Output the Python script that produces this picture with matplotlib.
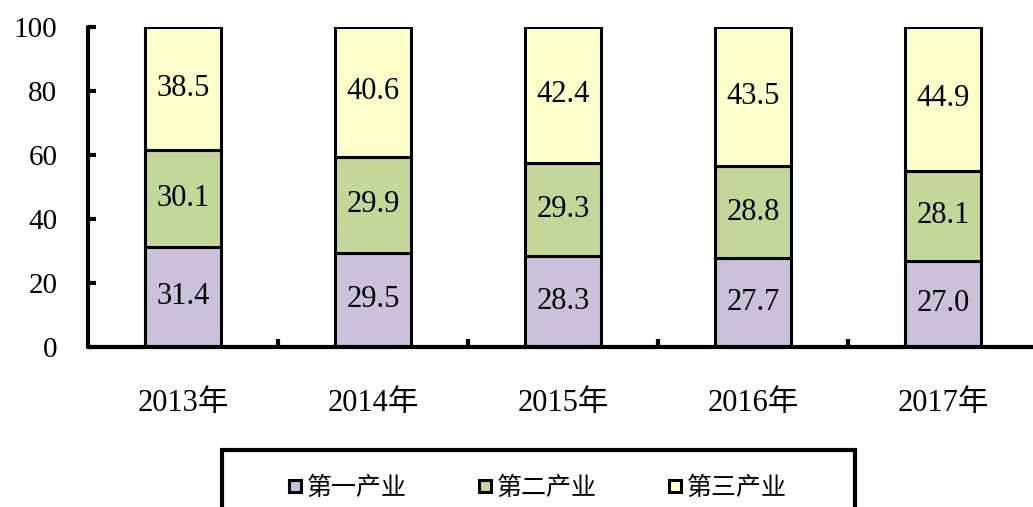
import matplotlib
matplotlib.use("Agg")
import matplotlib.pyplot as plt
from matplotlib.lines import Line2D
from matplotlib.patches import Rectangle
import numpy as np

plt.rcParams['font.family'] = ['Liberation Serif', 'Noto Sans CJK SC']

years = ["2013年", "2014年", "2015年", "2016年", "2017年"]
primary = [31.4, 29.5, 28.3, 27.7, 27.0]
secondary = [30.1, 29.9, 29.3, 28.8, 28.1]
tertiary = [38.5, 40.6, 42.4, 43.5, 44.9]
series_names = ["第一产业", "第二产业", "第三产业"]
colors = ["#CCC0DA", "#C4D79B", "#FFFFCC"]

W, H = 1033, 507
fig = plt.figure(figsize=(W / 100, H / 100), dpi=100)
ax = fig.add_axes([88 / W, (H - 347) / H, 950 / W, 320 / H])

x = np.arange(len(years))
bw = 0.405
bottom = np.zeros(len(years))
for vals, c in zip([primary, secondary, tertiary], colors):
    ax.bar(x, vals, bw, bottom=bottom, color=c, edgecolor="black", linewidth=2.2, zorder=2)
    for xi, b, v in zip(x, bottom, vals):
        ax.text(xi, b + v / 2, f"{v:.1f}", ha="center", va="center", fontsize=22, zorder=3)
    bottom = bottom + np.array(vals)

ax.set_xlim(-0.5, len(years) - 0.5)
ax.set_ylim(0, 100)
ax.set_yticks([0, 20, 40, 60, 80, 100])
ax.set_xticks(x)
ax.set_xticklabels(years)
ax.set_xticks(np.arange(0.5, len(years) - 0.5, 1), minor=True)

for s in ["top", "right"]:
    ax.spines[s].set_visible(False)
for s in ["left", "bottom"]:
    ax.spines[s].set_linewidth(3)
    ax.spines[s].set_capstyle("round")

ax.tick_params(axis="y", direction="in", length=6, width=3, labelsize=21, pad=22)
ax.tick_params(axis="x", which="major", length=0, labelsize=22, pad=30)
ax.tick_params(axis="x", which="minor", direction="in", length=6, width=3)

# legend box
fig.patches.append(Rectangle((222 / W, -0.05), (855 - 222) / W, (H - 450) / H + 0.05,
                             transform=fig.transFigure, facecolor="white",
                             edgecolor="black", linewidth=3, zorder=5))
handles = [Line2D([], [], marker="s", linestyle="none", markersize=9,
                  markerfacecolor=c, markeredgecolor="black", markeredgewidth=2.2)
           for c in colors]
leg = fig.legend(handles, series_names, loc="center", ncol=3,
                 bbox_to_anchor=(537 / W, (H - 488) / H), frameon=False,
                 handlelength=0.6, handletextpad=0.15, columnspacing=2.85,
                 prop={"family": ["Noto Sans CJK SC"], "size": 18})
leg.set_zorder(6)

fig.savefig("out.png", dpi=100)
